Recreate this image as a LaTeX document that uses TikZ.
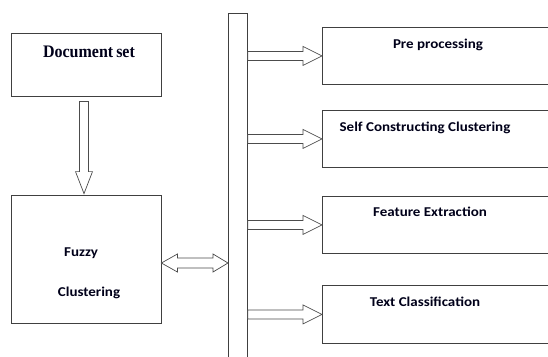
\documentclass[tikz,border=0pt]{standalone}
\usepackage{fontspec}
\setmainfont{Liberation Serif}
\newfontfamily\calib{Carlito}
\usetikzlibrary{calc}
\tikzset{
  box/.style={draw=black!75, line width=0.8pt, rectangle, inner sep=0pt},
  barbox/.style={draw=black!75, line width=0.8pt, rectangle, inner sep=0pt},
  arrowline/.style={draw=black!70, line width=0.7pt, fill=white, line join=miter},
  lbl/.style={font=\calib\bfseries\fontsize{15}{17}\selectfont, text=black!90!blue, inner sep=0pt},
  serlbl/.style={font=\bfseries\fontsize{16}{18}\selectfont, text=black!90!blue, inner sep=0pt},
}
\newcommand{\cl}[1]{\scalebox{1}[0.9]{#1}}
\newcommand{\rblockarrow}[2]{%
  \draw[arrowline] ($(#1)+(0,4.5)$) -- ($(#2)+(-19,4.5)$) -- ($(#2)+(-19,9.5)$) -- (#2)
    -- ($(#2)+(-19,-9.5)$) -- ($(#2)+(-19,-4.5)$) -- ($(#1)+(0,-4.5)$) -- cycle;}
\begin{document}
\begin{tikzpicture}[x=1pt,y=-1pt]
\clip (0,0) rectangle (548,356);
\useasboundingbox (0,0) rectangle (548,356);
% left boxes
\node[box, minimum width=150pt, minimum height=63pt] (doc) at (86,64.5) {};
\node[serlbl] (doct) at (89,52) {\scalebox{1}[1.1]{Document\kern-1pt\ set}};
\node[box, minimum width=150pt, minimum height=128pt] (fuzzy) at (86,259) {};
\node[lbl, anchor=west] (fuzzyt) at (64,253) {\cl{Fuzzy}};
\node[lbl] (clust) at (89,293) {\cl{Clustering}};
% bar
\node[barbox, minimum width=19pt, minimum height=360pt, anchor=north west] (bar) at (228,13) {};
% right boxes
\node[box, minimum width=240pt, minimum height=57pt, anchor=north west] (p1) at (322,27) {};
\node[box, minimum width=240pt, minimum height=57pt, anchor=north west] (p2) at (322,110) {};
\node[box, minimum width=240pt, minimum height=57pt, anchor=north west] (p3) at (322,196) {};
\node[box, minimum width=240pt, minimum height=58pt, anchor=north west] (p4) at (322,285) {};
\node[lbl] (t1) at (438,45) {\cl{Pre processing}};
\node[lbl] (t2) at (425,128) {\cl{Self Constructing Clustering}};
\node[lbl] (t3) at (430,212) {\cl{Feature Extraction}};
\node[lbl] (t4) at (425,302) {\cl{Text Classification}};
% right arrows
\coordinate (s1) at (bar.east |- p1.west);
\coordinate (s2) at (bar.east |- p2.west);
\coordinate (s3) at (bar.east |- p3.west);
\coordinate (s4) at (bar.east |- p4.west);
\rblockarrow{s1}{p1.west}
\rblockarrow{s2}{p2.west}
\rblockarrow{s3}{p3.west}
\rblockarrow{s4}{p4.west}
% down arrow
\coordinate (dtop) at ($(doc.south)+(-2,5)$);
\coordinate (dtip) at ($(fuzzy.north)+(-2,-1)$);
\draw[arrowline] ($(dtop)+(-4.5,0)$) -- ($(dtip)+(-4.5,-22)$) -- ($(dtip)+(-8.5,-22)$) -- (dtip)
  -- ($(dtip)+(8.5,-22)$) -- ($(dtip)+(4.5,-22)$) -- ($(dtop)+(4.5,0)$) -- cycle;
% double arrow
\coordinate (dl) at (fuzzy.east |- 0,263);
\coordinate (dr) at (bar.west |- 0,263);
\draw[arrowline] (dl) -- ($(dl)+(16,-9)$) -- ($(dl)+(16,-5)$) -- ($(dr)+(-15,-5)$) -- ($(dr)+(-15,-9)$) -- (dr)
  -- ($(dr)+(-15,9)$) -- ($(dr)+(-15,5)$) -- ($(dl)+(16,5)$) -- ($(dl)+(16,9)$) -- cycle;
\end{tikzpicture}
\end{document}
